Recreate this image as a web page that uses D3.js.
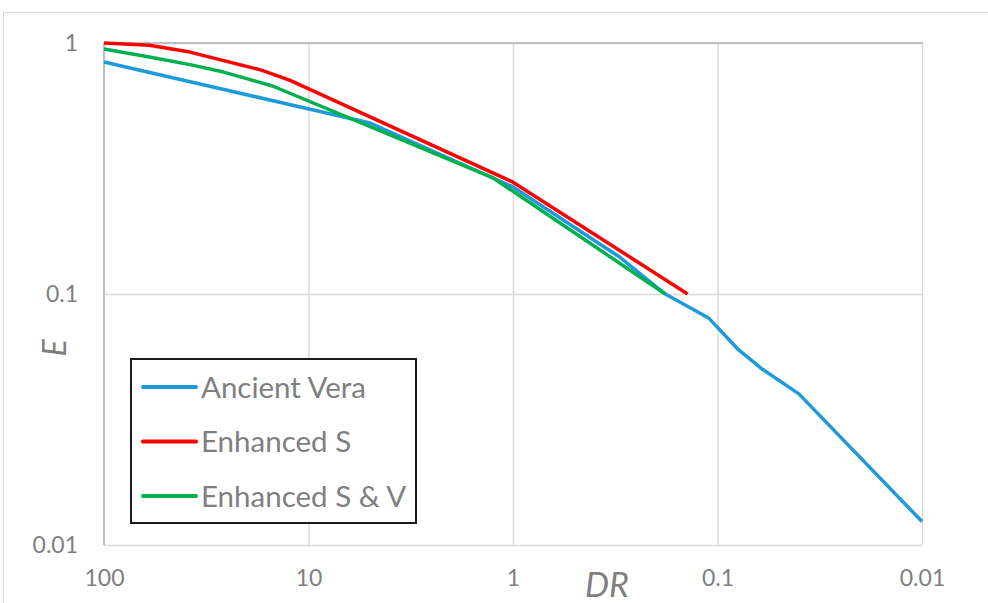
<!DOCTYPE html>
<html>
<head>
<meta charset="utf-8">
<script src="https://cdn.jsdelivr.net/npm/d3@7"></script>
<style>
  body { margin: 0; background: #fff; }
  svg text { font-family: Lato, "Open Sans", sans-serif; fill: #7f7f7f; }
</style>
</head>
<body>
<svg width="988" height="603"></svg>
<script>
// values
const xTicks = [100, 10, 1, 0.1, 0.01];
const xTickLabels = ['100', '10', '1', '0.1', '0.01'];
const yTicks = [0.01, 0.1, 1];
const yTickLabels = ['0.01', '0.1', '1'];

const seriesNames = ['Ancient Vera', 'Enhanced S', 'Enhanced S & V'];
const seriesColors = ['#1f9ad8', '#ff0000', '#00b04f'];

const veraDR = [100, 5, 1, 0.3, 0.18, 0.11, 0.079, 0.06, 0.04, 0.01];
const veraE  = [0.84, 0.48, 0.267, 0.14, 0.1, 0.08, 0.06, 0.05, 0.04, 0.0124];

const enhSDR = [100, 60, 38, 17, 12.3, 1, 0.14];
const enhSE  = [1.0, 0.98, 0.92, 0.78, 0.71, 0.279, 0.1];

const enhSVDR = [100, 60, 38, 26, 15, 1.25, 0.18];
const enhSVE  = [0.946, 0.88, 0.82, 0.766, 0.674, 0.29, 0.1];

const series = [
  veraDR.map((d, i) => [d, veraE[i]]),
  enhSDR.map((d, i) => [d, enhSE[i]]),
  enhSVDR.map((d, i) => [d, enhSVE[i]])
];

const svg = d3.select('svg');
const plotLeft = 104, plotRight = 922, plotTop = 43, plotBottom = 545;

const x = d3.scaleLog().domain([100, 0.01]).range([plotLeft, plotRight]);
const y = d3.scaleLog().domain([0.01, 1]).range([plotBottom, plotTop]);

// outer chart border
svg.append('rect')
  .attr('x', 3.5).attr('y', 12.5)
  .attr('width', 1000).attr('height', 700)
  .attr('fill', 'none').attr('stroke', '#d9d9d9');

// gridlines
svg.append('g')
  .attr('transform', `translate(0,${plotBottom})`)
  .call(d3.axisBottom(x).tickValues(xTicks).tickSize(-(plotBottom - plotTop)).tickFormat(''))
  .call(g => g.select('.domain').remove())
  .call(g => g.selectAll('line').attr('stroke', '#d9d9d9').attr('stroke-width', 1.5));

svg.append('g')
  .attr('transform', `translate(${plotLeft},0)`)
  .call(d3.axisLeft(y).tickValues(yTicks).tickSize(-(plotRight - plotLeft)).tickFormat(''))
  .call(g => g.select('.domain').remove())
  .call(g => g.selectAll('line').attr('stroke', '#d9d9d9').attr('stroke-width', 1.5));

// left and top lines are darker
svg.append('line')
  .attr('x1', plotLeft).attr('x2', plotLeft).attr('y1', plotTop).attr('y2', plotBottom)
  .attr('stroke', '#bfbfbf').attr('stroke-width', 2);
svg.append('line')
  .attr('x1', plotLeft).attr('x2', plotRight + 1).attr('y1', plotTop).attr('y2', plotTop)
  .attr('stroke', '#bfbfbf').attr('stroke-width', 2);

// tick labels
svg.append('g')
  .attr('transform', `translate(${plotLeft},0)`)
  .call(d3.axisLeft(y).tickValues(yTicks).tickSize(0).tickPadding(26)
    .tickFormat((d, i) => yTickLabels[i]))
  .call(g => g.select('.domain').remove())
  .call(g => g.selectAll('text').attr('font-size', 23).attr('fill', '#7f7f7f')
    .style('font-family', 'Lato, sans-serif'));

svg.append('g')
  .attr('transform', `translate(0,${plotBottom})`)
  .call(d3.axisBottom(x).tickValues(xTicks).tickSize(0).tickPadding(25)
    .tickFormat((d, i) => xTickLabels[i]))
  .call(g => g.select('.domain').remove())
  .call(g => g.selectAll('text').attr('font-size', 23).attr('fill', '#7f7f7f')
    .style('font-family', 'Lato, sans-serif'));

// axis titles
svg.append('text')
  .attr('transform', 'translate(66,348) rotate(-90)')
  .attr('text-anchor', 'middle')
  .attr('font-size', 32).attr('font-style', 'italic')
  .text('E');

svg.append('text')
  .attr('x', 607).attr('y', 597)
  .attr('text-anchor', 'middle')
  .attr('font-size', 34).attr('font-style', 'italic')
  .text('DR');

// series lines
const line = d3.line().x(d => x(d[0])).y(d => y(d[1]));

svg.append('g')
  .selectAll('path')
  .data(series)
  .join('path')
  .attr('d', line)
  .attr('fill', 'none')
  .attr('stroke', (d, i) => seriesColors[i])
  .attr('stroke-width', 3.5)
  .attr('stroke-linejoin', 'round');

// legend
const legend = svg.append('g');
legend.append('rect')
  .attr('x', 131).attr('y', 359)
  .attr('width', 285).attr('height', 164)
  .attr('fill', '#fff').attr('stroke', '#1a1a1a').attr('stroke-width', 2);

const items = legend.selectAll('g.item')
  .data(seriesNames)
  .join('g')
  .attr('class', 'item')
  .attr('transform', (d, i) => `translate(0,${387 + i * 54.5})`);

items.append('line')
  .attr('x1', 143).attr('x2', 196)
  .attr('stroke', (d, i) => seriesColors[i])
  .attr('stroke-width', 4).attr('stroke-linecap', 'round');

items.append('text')
  .attr('x', 201).attr('dy', '0.36em')
  .attr('font-size', 29.5)
  .text(d => d);
</script>
</body>
</html>
